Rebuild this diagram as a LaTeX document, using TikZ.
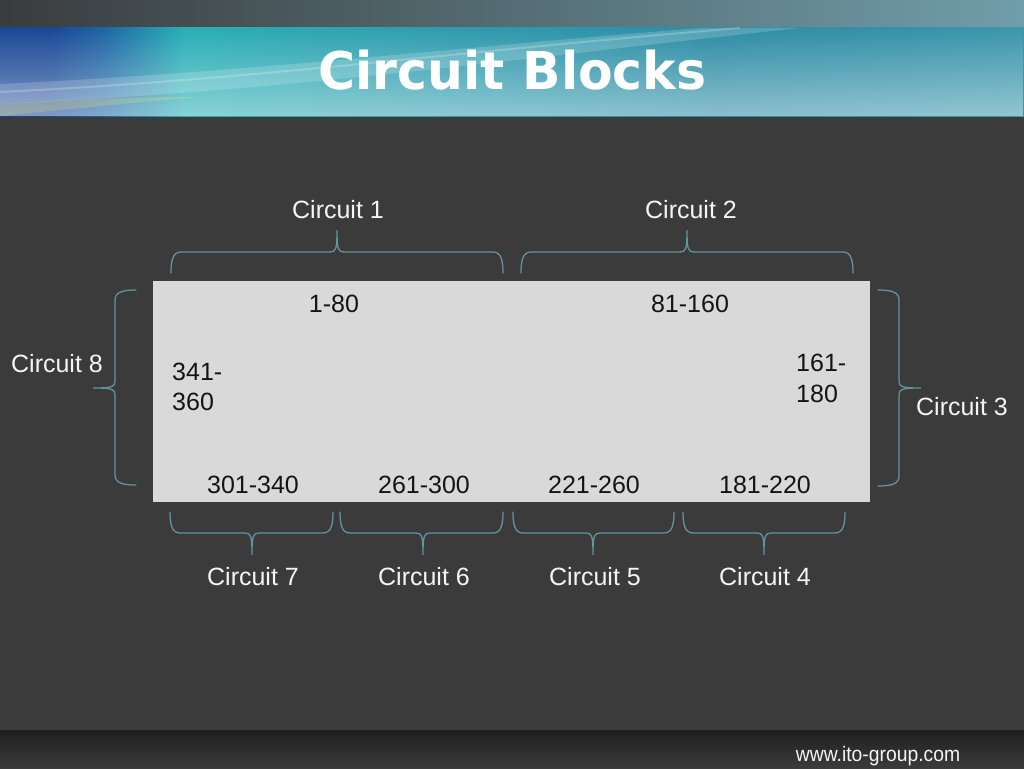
\documentclass[tikz,border=0pt]{standalone}
\usepackage{fontspec}
\setmainfont{Liberation Sans}
\newfontfamily\titlefont{DejaVu Sans}[FakeStretch=0.97]
\newfontfamily\footfont{Liberation Sans}[FakeStretch=0.92]
\usetikzlibrary{fadings}
\definecolor{bgc}{RGB}{59,59,59}
\definecolor{boxc}{RGB}{217,217,217}
\definecolor{brc}{RGB}{98,148,158}
\definecolor{txtw}{RGB}{245,245,245}
\definecolor{txtb}{RGB}{20,20,20}
\definecolor{h1}{RGB}{26,72,150}
\definecolor{h2}{RGB}{30,100,165}
\definecolor{h3}{RGB}{40,175,182}
\definecolor{h4}{RGB}{48,160,176}
\definecolor{h5}{RGB}{45,140,165}
\definecolor{h6}{RGB}{60,150,172}
\definecolor{s1}{RGB}{58,60,62}
\definecolor{s2}{RGB}{112,158,170}
\pgfdeclarehorizontalshading{hdr}{100bp}{color(0bp)=(h1); color(25bp)=(h1); color(27.5bp)=(h1); color(30bp)=(h2); color(34bp)=(h3); color(44bp)=(h4); color(60bp)=(h5); color(75bp)=(h6); color(100bp)=(h6)}
\newcommand{\cbrace}[5]{%
  \draw[bracestyle, shift={(#1,#2)}, rotate=#3]
    (0,0) .. controls (0,-13) and (2,-21) .. (10,-21)
    -- ({#5-7},-21) .. controls ({#5-1},-21) and (#5,-24) .. (#5,-43)
    .. controls (#5,-24) and ({#5+1},-21) .. ({#5+7},-21)
    -- ({#4-10},-21) .. controls ({#4-2},-21) and (#4,-13) .. (#4,0);}
\tikzset{
  bracestyle/.style={draw=brc, line width=1.3pt, line cap=round},
  lbl/.style={text=txtw, font=\fontsize{25}{30}\selectfont, inner sep=0pt, anchor=base},
  num/.style={text=txtb, font=\fontsize{25}{30}\selectfont, inner sep=0pt, anchor=base},
}
\begin{document}
\begin{tikzpicture}[x=1pt,y=-1pt]
\useasboundingbox (0,0) rectangle (1024,768);
% background
\fill[bgc] (0,0) rectangle (1024,768);
% header
\shade[left color=s1, right color=s2] (0,0) rectangle (1024,28);
\shade[shading=hdr] (0,28) rectangle (1024,116);
\fill[white, path fading=north, fill opacity=0.45] (0,28) rectangle (1024,116);
\begin{scope}
\clip (0,28) rectangle (1024,116);
\fill[white, opacity=0.18] (0,84) .. controls (250,72) and (450,48) .. (700,28) -- (800,28) .. controls (520,58) and (300,90) .. (0,104) -- cycle;
\draw[white, opacity=0.22, line width=2pt] (0,92) .. controls (250,80) and (450,52) .. (740,28);
\fill[yellow!60!white, opacity=0.2] (0,104) .. controls (60,100) and (120,97) .. (200,97) .. controls (120,104) and (60,110) .. (0,116) -- cycle;
\end{scope}
\node[text=white, font=\titlefont\bfseries\fontsize{52}{60}\selectfont, inner sep=0pt, anchor=base] (title) at (512.5,89) {Circuit Blocks};
% footer band
\shade[top color=black!88, bottom color=bgc] (0,730) rectangle (1024,768);
\node[text=txtw, font=\footfont\fontsize{21}{25}\selectfont, inner sep=0pt, anchor=base] (url) at (878,761) {www.ito-group.com};
% main box
\node[fill=boxc, minimum width=717pt, minimum height=221pt, inner sep=0pt, anchor=north west] (box) at (153,281) {};
% braces
\cbrace{171}{273}{0}{332}{166}
\cbrace{521}{273}{0}{332}{166}
\cbrace{136}{485}{90}{195}{97}
\cbrace{878}{290}{-90}{196}{98}
\cbrace{333}{512}{180}{163}{81}
\cbrace{503}{512}{180}{163}{80}
\cbrace{674}{512}{180}{161}{81}
\cbrace{845}{512}{180}{162}{81}
% labels
\node[lbl] (c1) at (338,218) {Circuit 1};
\node[lbl] (c2) at (691,218) {Circuit 2};
\node[lbl] (c8) at (57,372) {Circuit 8};
\node[lbl] (c3) at (962,415) {Circuit 3};
\node[lbl] (c7) at (253,585) {Circuit 7};
\node[lbl] (c6) at (424,585) {Circuit 6};
\node[lbl] (c5) at (595,585) {Circuit 5};
\node[lbl] (c4) at (765,585) {Circuit 4};
% numbers
\node[num] (n1) at (334,312) {1-80};
\node[num] (n2) at (690,312) {81-160};
\node[num, anchor=base west] (n9a) at (172,380) {341-};
\node[num, anchor=base west] (n9b) at (172,410) {360};
\node[num, anchor=base west] (n3a) at (796,371) {161-};
\node[num, anchor=base west] (n3b) at (796,402) {180};
\node[num] (n7) at (253,493) {301-340};
\node[num] (n6) at (424,493) {261-300};
\node[num] (n5) at (594,493) {221-260};
\node[num] (n4) at (765,493) {181-220};
\end{tikzpicture}
\end{document}
